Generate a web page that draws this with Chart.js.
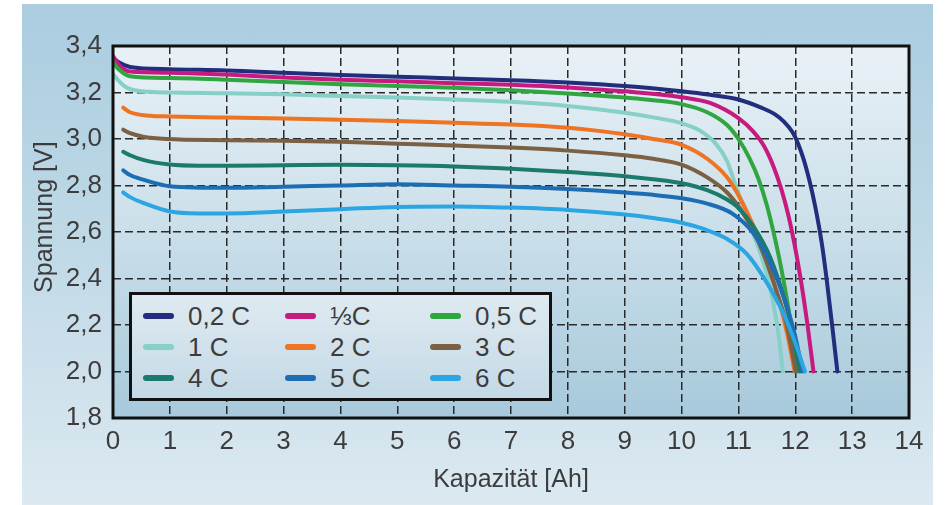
<!DOCTYPE html>
<html lang="de">
<head>
<meta charset="utf-8">
<title>Entladekurven</title>
<script src="https://cdn.jsdelivr.net/npm/chart.js@4.4.1/dist/chart.umd.min.js"></script>
<style>
  html, body { margin: 0; padding: 0; background: #fff; }
  #wrap { position: relative; width: 946px; height: 505px; overflow: hidden; }
  #panel {
    position: absolute; left: 22px; top: 4px; width: 911px; height: 501px;
    background: linear-gradient(to bottom, #aacde0 0%, #bed8e6 45%, #dce9f1 100%);
  }
  #chart { position: absolute; left: 0; top: 0; }
  #legend {
    position: absolute; left: 129px; top: 292px; width: 423px; height: 109px;
    box-sizing: border-box; border: 3px solid #111;
    background: linear-gradient(to bottom, #dfeaf1 0%, #c3d9e6 100%);
    font-family: 'Liberation Sans', Arial, sans-serif; color: #3c3c3c;
  }
  .item { position: absolute; height: 30px; display: flex; align-items: center; }
  .swatch { width: 31px; height: 6px; border-radius: 3px; margin-right: 14px; }
  .item span { font-size: 26px; line-height: 30px; white-space: nowrap; }
</style>
</head>
<body>
<div id="wrap">
  <div id="panel"></div>
  <canvas id="chart" width="946" height="505"></canvas>
  <div id="legend"></div>
</div>
<script>
// Entladekurven bei verschiedenen C-Raten

// 0,2 C
const cap02 = [0, 0.1, 0.3, 1, 2, 3, 4, 5, 6, 7, 8, 9, 10, 10.5, 11, 11.4, 11.65, 11.8, 11.95, 12.05, 12.15, 12.25, 12.35, 12.47, 12.56, 12.65, 12.74];
const volt02 = [3.35, 3.33, 3.31, 3.30, 3.295, 3.285, 3.275, 3.268, 3.26, 3.253, 3.243, 3.228, 3.205, 3.19, 3.17, 3.135, 3.105, 3.075, 3.03, 2.98, 2.91, 2.82, 2.71, 2.545, 2.38, 2.195, 2.0];
// 1/3 C
const cap03 = [0, 0.1, 0.3, 1, 2, 3, 4, 5, 6, 7, 8, 9, 10, 10.5, 11, 11.25, 11.45, 11.62, 11.76, 11.88, 12.0, 12.1, 12.21, 12.32];
const volt03 = [3.357, 3.32, 3.29, 3.285, 3.277, 3.265, 3.255, 3.248, 3.24, 3.233, 3.222, 3.205, 3.18, 3.155, 3.09, 3.035, 2.97, 2.88, 2.78, 2.67, 2.53, 2.39, 2.21, 2.0];
// 0,5 C
const cap05 = [0, 0.1, 0.3, 1, 2, 3, 4, 5, 6, 7, 8, 9, 9.5, 10, 10.45, 10.8, 11, 11.2, 11.35, 11.5, 11.64, 11.76, 11.88, 11.96, 12.03];
const volt05 = [3.33, 3.30, 3.27, 3.262, 3.255, 3.245, 3.235, 3.228, 3.22, 3.21, 3.196, 3.178, 3.167, 3.15, 3.115, 3.06, 3.0, 2.915, 2.83, 2.715, 2.575, 2.435, 2.27, 2.14, 2.0];
// 1 C
const cap1 = [0, 0.1, 0.25, 0.65, 1, 2, 3, 4, 5, 6, 7, 8, 9, 9.5, 10, 10.33, 10.6, 10.8, 10.95, 11.1, 11.25, 11.4, 11.52, 11.63, 11.71, 11.78];
const volt1 = [3.28, 3.25, 3.22, 3.203, 3.2, 3.197, 3.192, 3.185, 3.178, 3.17, 3.16, 3.142, 3.113, 3.093, 3.068, 3.035, 2.98, 2.905, 2.80, 2.70, 2.60, 2.50, 2.40, 2.27, 2.15, 2.0];
// 2 C
const cap2 = [0.18, 0.3, 0.65, 1, 2, 3, 4, 5, 6, 7, 8, 8.5, 9, 9.5, 10, 10.45, 10.8, 11.03, 11.2, 11.38, 11.56, 11.72, 11.86, 11.99];
const volt2 = [3.135, 3.115, 3.10, 3.097, 3.092, 3.088, 3.083, 3.077, 3.07, 3.062, 3.048, 3.036, 3.02, 3.0, 2.975, 2.915, 2.835, 2.745, 2.66, 2.56, 2.43, 2.30, 2.16, 2.0];
// 3 C
const cap3 = [0.18, 0.3, 0.53, 0.95, 2, 3, 4, 5, 6, 7, 8, 9, 9.5, 10, 10.45, 10.8, 11.03, 11.25, 11.45, 11.65, 11.85, 12.01];
const volt3 = [3.04, 3.025, 3.01, 3.0, 2.995, 2.992, 2.988, 2.98, 2.972, 2.963, 2.95, 2.93, 2.915, 2.89, 2.835, 2.77, 2.70, 2.61, 2.50, 2.36, 2.20, 2.0];
// 4 C
const cap4 = [0.18, 0.3, 0.53, 1, 1.5, 2, 3, 4, 5, 6, 7, 8, 9, 9.5, 10, 10.45, 10.8, 10.97, 11.26, 11.56, 11.82, 11.95, 12.08];
const volt4 = [2.945, 2.93, 2.91, 2.89, 2.885, 2.885, 2.887, 2.889, 2.887, 2.882, 2.872, 2.858, 2.84, 2.827, 2.81, 2.78, 2.74, 2.71, 2.625, 2.49, 2.30, 2.17, 2.0];
// 5 C
const cap5 = [0.18, 0.3, 0.53, 1, 2, 3, 4, 5, 6, 7, 8, 9, 9.5, 10, 10.45, 10.9, 11.26, 11.59, 11.87, 12.0, 12.13];
const volt5 = [2.865, 2.845, 2.825, 2.797, 2.79, 2.795, 2.8, 2.805, 2.8, 2.795, 2.785, 2.77, 2.76, 2.745, 2.722, 2.678, 2.595, 2.45, 2.265, 2.15, 2.0];
// 6 C
const cap6 = [0.18, 0.3, 0.53, 1, 1.5, 2, 3, 4, 5, 6, 7, 8, 9, 9.5, 10, 10.4, 10.8, 11.15, 11.43, 11.73, 11.96, 12.17];
const volt6 = [2.77, 2.75, 2.725, 2.688, 2.68, 2.68, 2.688, 2.698, 2.708, 2.71, 2.705, 2.695, 2.675, 2.66, 2.64, 2.612, 2.57, 2.505, 2.41, 2.28, 2.15, 2.0];

const seriesLabels = ['0,2 C', '\u2153C', '0,5 C', '1 C', '2 C', '3 C', '4 C', '5 C', '6 C'];
const seriesColors = ['#222d7d', '#c8197f', '#30a540', '#86d0c7', '#ee7322', '#7b6043', '#1b7a6c', '#1d6db5', '#2ca6e2'];
const seriesCaps = [cap02, cap03, cap05, cap1, cap2, cap3, cap4, cap5, cap6];
const seriesVolts = [volt02, volt03, volt05, volt1, volt2, volt3, volt4, volt5, volt6];

const xTicks = { min: 0, max: 14, step: 1 };
const yTicks = { min: 1.8, max: 3.4, step: 0.2 };
const xTitle = 'Kapazit\u00e4t [Ah]';
const yTitle = 'Spannung [V]';

const textColor = '#3c3c3c';
const fontFamily = "'Liberation Sans', Arial, sans-serif";

// Plot background, frame and the y axis title (sits a bit above centre in the original)
const plotArea = {
  id: 'plotArea',
  beforeDraw(chart) {
    const { ctx, chartArea: a } = chart;
    const g = ctx.createLinearGradient(0, a.top, 0, a.bottom);
    g.addColorStop(0, '#e9f1f7');
    g.addColorStop(0.5, '#cadfea');
    g.addColorStop(1, '#a7c9db');
    ctx.save();
    ctx.fillStyle = g;
    ctx.fillRect(a.left, a.top, a.right - a.left, a.bottom - a.top);
    ctx.restore();
  },
  afterDatasetsDraw(chart) {
    const { ctx, chartArea: a } = chart;
    ctx.save();
    ctx.strokeStyle = '#111';
    ctx.lineWidth = 3;
    ctx.strokeRect(a.left, a.top, a.right - a.left, a.bottom - a.top);
    ctx.restore();
  },
  afterDraw(chart) {
    const { ctx, chartArea: a } = chart;
    ctx.save();
    ctx.translate(45, a.top + (a.bottom - a.top) * 0.46);
    ctx.rotate(-Math.PI / 2);
    ctx.font = '25px ' + fontFamily;
    ctx.fillStyle = textColor;
    ctx.textAlign = 'center';
    ctx.textBaseline = 'middle';
    ctx.fillText(yTitle, 0, 0);
    ctx.restore();
  }
};

const datasets = seriesLabels.map((label, i) => ({
  label: label,
  data: seriesCaps[i].map((c, k) => ({ x: c, y: seriesVolts[i][k] })),
  borderColor: seriesColors[i],
  backgroundColor: seriesColors[i],
  borderWidth: 4,
  pointRadius: 0,
  fill: false,
  cubicInterpolationMode: 'monotone',
  borderCapStyle: 'round',
  order: -i
}));

const chart = new Chart(document.getElementById('chart'), {
  type: 'line',
  data: { datasets: datasets },
  options: {
    responsive: false,
    animation: false,
    layout: { padding: { top: 46, right: 37, left: 0, bottom: 0 } },
    plugins: { legend: { display: false }, tooltip: { enabled: false } },
    scales: {
      x: {
        type: 'linear',
        min: xTicks.min, max: xTicks.max,
        afterFit(s) { s.height = 87; },
        ticks: {
          stepSize: xTicks.step, padding: 8, color: textColor,
          font: { family: fontFamily, size: 26 },
          callback: v => String(Math.round(v))
        },
        grid: { color: '#2a2a2a', lineWidth: 1.5, drawTicks: false },
        border: { display: false, dash: [8, 4] },
        title: {
          display: true, text: xTitle, color: textColor,
          font: { family: fontFamily, size: 25 }, padding: { top: 0, bottom: 10 }
        }
      },
      y: {
        min: yTicks.min, max: yTicks.max,
        afterFit(s) { s.width = 113; },
        ticks: {
          stepSize: yTicks.step, padding: 11, color: textColor,
          font: { family: fontFamily, size: 26 },
          callback: v => v.toFixed(1).replace('.', ',')
        },
        grid: { color: '#2a2a2a', lineWidth: 1.5, drawTicks: false },
        border: { display: false, dash: [8, 4] }
      }
    }
  },
  plugins: [plotArea]
});

// HTML legend, 3 x 3 grid inside the plot
const legendEl = document.getElementById('legend');
const colX = [11, 153, 298];
const rowY = [6, 37, 68];
chart.data.datasets.forEach((ds, i) => {
  const item = document.createElement('div');
  item.className = 'item';
  item.style.left = colX[i % 3] + 'px';
  item.style.top = rowY[Math.floor(i / 3)] + 'px';
  const sw = document.createElement('div');
  sw.className = 'swatch';
  sw.style.background = ds.borderColor;
  const txt = document.createElement('span');
  txt.textContent = ds.label;
  item.appendChild(sw);
  item.appendChild(txt);
  legendEl.appendChild(item);
});
</script>
</body>
</html>
